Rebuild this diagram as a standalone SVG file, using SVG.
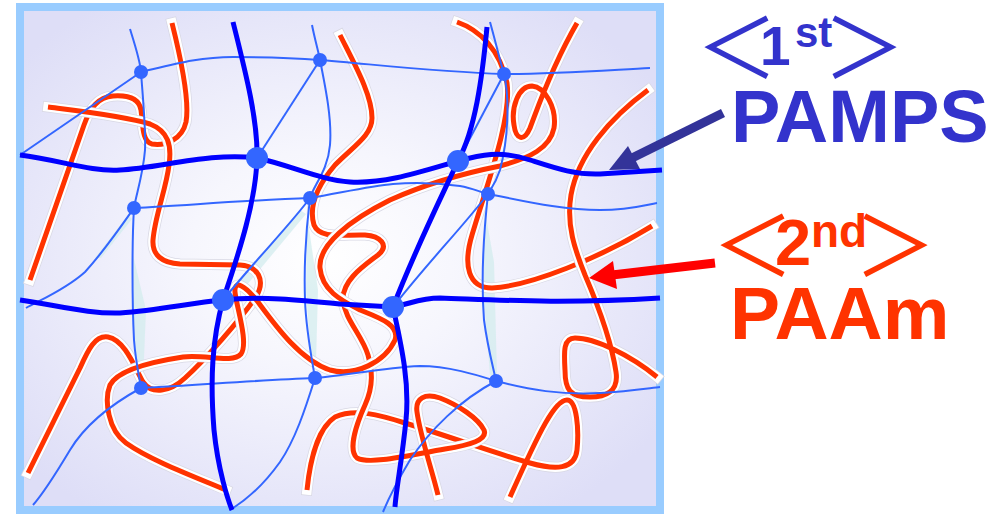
<svg xmlns="http://www.w3.org/2000/svg" xmlns:xlink="http://www.w3.org/1999/xlink" width="1007" height="514" viewBox="0 0 1007 514">
  <defs>
    <radialGradient id="bg" cx="0.48" cy="0.5" r="0.62">
      <stop offset="0" stop-color="#ffffff"/>
      <stop offset="0.35" stop-color="#f6f6fd"/>
      <stop offset="1" stop-color="#dedef7"/>
    </radialGradient>
    <style>
      .thick { fill: none; stroke: #0000ff; stroke-width: 5; stroke-linecap: butt; }
      .thin { fill: none; stroke: #3366ff; stroke-width: 2; }
      .edge { fill: none; stroke: #d8d8e4; stroke-width: 11; stroke-linecap: square; stroke-linejoin: round; }
      .halo { fill: none; stroke: #ffffff; stroke-width: 9.5; stroke-linecap: square; stroke-linejoin: round; }
      .red { fill: none; stroke: #ff3300; stroke-width: 5; stroke-linejoin: round; }
      .xl { fill: #3366ff; }
      .shade { fill: #d3ecee; opacity: 0.75; }
      .lbl { font-family: "Liberation Sans", Arial, sans-serif; font-weight: bold; }
      .br { font-family: "Noto Sans CJK JP", sans-serif; font-weight: normal; font-size: 82px; }
      .blue { fill: #3333cc; }
      .orange { fill: #ff3300; }
    </style>
    <!-- second-network (PAAm) chains -->
    <path id="rA" d="M172,23 C180,55 190,100 186,122 C182,140 165,146 152,144 C142,142 143,125 141,110 C139,98 128,95 113,96 C98,97 90,108 84,125 L30,280"/>
    <path id="rB" d="M48,107 C80,111 125,116 150,124 C168,131 172,145 169,165 C166,190 155,215 153,240 C152,255 162,263 180,264 L240,265 C258,266 266,280 256,297 C240,320 205,360 185,378 C170,392 152,395 143,382 C135,368 125,340 108,337 C95,335 88,350 80,368 L28,473"/>
    <path id="rC" d="M226,490 C190,475 150,460 126,443 C108,430 104,400 110,385 C118,370 150,362 183,357 C205,354 232,364 241,354 C249,343 236,305 235,292 C234,280 244,284 258,302 C275,325 300,360 330,370 C355,377 385,362 395,340 C400,325 380,318 360,310 C340,300 322,290 320,268 C318,245 350,220 390,200 C430,182 470,172 500,166 C530,158 550,148 554,128 C557,108 545,87 532,86 C518,86 511,108 514,125 C516,140 524,142 530,128 C537,110 550,70 577,23"/>
    <path id="rE" d="M457,22 C480,30 500,50 507,83 C512,120 485,190 472,235 C463,265 468,288 492,288 C530,286 600,258 652,226"/>
    <path id="rF" d="M648,90 C610,118 578,155 571,195 C566,225 575,250 585,275 C600,310 612,345 616,372 C619,392 605,397 590,397 C570,397 565,390 565,370 C564,352 563,338 575,338 C595,338 630,355 657,377"/>
    <path id="rG" d="M307,490 C310,460 318,428 335,417 C355,408 380,415 405,423 C445,435 500,455 530,463 C555,470 575,470 577,450 C579,430 577,400 567,400 C555,400 540,430 510,497"/>
    <path id="rH" d="M438,495 C432,470 420,435 417,412 C415,398 425,393 440,398 C458,405 478,418 484,430 C488,440 470,445 445,449 C410,455 370,465 357,458 C348,450 356,425 365,405 C374,385 372,370 368,355 C362,335 345,320 343,300 C342,280 365,265 378,255 C390,245 380,236 365,235 C345,234 320,240 314,225 C308,205 318,185 335,165 C355,145 372,135 372,118 C372,95 355,65 340,35"/>
  </defs>

  <!-- gel frame -->
  <rect x="20" y="7" width="640" height="503" fill="url(#bg)" stroke="#99ccff" stroke-width="8"/>

  <!-- faint shading along the loose network strands -->
  <g id="shading">
    <polygon class="shade" points="133,255 146,310 143,382 138,382 133,310"/>
    <polygon class="shade" points="307,215 318,290 316,362 311,362 306,290"/>
    <polygon class="shade" points="484,205 494,262 497,375 490,375 484,300"/>
    <polygon class="shade" points="232,290 300,210 306,214 246,286"/>
    <polygon class="shade" points="95,258 128,215 132,219 101,258"/>
  </g>

  <!-- PAAm chains -->
  <g id="paam">
    <use xlink:href="#rA" class="edge"/><use xlink:href="#rA" class="halo"/><use xlink:href="#rA" class="red"/>
    <use xlink:href="#rB" class="edge"/><use xlink:href="#rB" class="halo"/><use xlink:href="#rB" class="red"/>
    <use xlink:href="#rE" class="edge"/><use xlink:href="#rE" class="halo"/><use xlink:href="#rE" class="red"/>
    <use xlink:href="#rF" class="edge"/><use xlink:href="#rF" class="halo"/><use xlink:href="#rF" class="red"/>
    <use xlink:href="#rG" class="edge"/><use xlink:href="#rG" class="halo"/><use xlink:href="#rG" class="red"/>
    <use xlink:href="#rH" class="edge"/><use xlink:href="#rH" class="halo"/><use xlink:href="#rH" class="red"/>
    <use xlink:href="#rC" class="edge"/><use xlink:href="#rC" class="halo"/><use xlink:href="#rC" class="red"/>
  </g>

  <!-- PAMPS network: connectors -->
  <g id="connectors">
    <g id="thin-strands">
      <path class="thin" d="M20,155 L141,72"/>
      <path class="thin" d="M141,72 C175,64 200,57 233,57 C270,57 295,58 320,60 C380,65 440,72 504,74 C560,74 610,70 650,68"/>
      <path class="thin" d="M130,29 C135,45 140,60 141,72 C143,100 146,130 145,150 C143,175 136,195 134,208 C132,240 132,300 134,340 C136,365 140,380 141,388"/>
      <path class="thin" d="M312,25 C315,40 318,50 320,60 C326,90 332,120 330,145 C328,170 314,185 310,198 C306,230 304,270 305,300 C306,330 312,360 315,378"/>
      <path class="thin" d="M490,22 C495,40 500,60 504,74 C510,100 508,140 500,170 C495,185 490,190 488,194 C484,230 481,280 484,320 C488,350 494,370 496,381"/>
      <path class="thin" d="M320,60 L257,158"/>
      <path class="thin" d="M504,74 L458,161"/>
      <path class="thin" d="M134,208 C190,205 250,200 310,198 C340,193 370,186 393,184 C420,182 445,184 460,186 C472,188 480,192 488,194 C520,200 560,210 600,210 C630,210 645,205 657,203"/>
      <path class="thin" d="M134,208 C120,228 105,250 85,272 C65,290 40,300 26,308"/>
      <path class="thin" d="M310,198 C290,225 260,255 223,300"/>
      <path class="thin" d="M488,194 C460,230 430,260 393,307"/>
      <path class="thin" d="M141,388 C200,385 260,380 315,378 C350,375 380,368 420,366 C450,366 480,376 496,381 C530,390 560,395 600,393 C630,391 650,388 660,387"/>
      <path class="thin" d="M141,388 C110,405 85,425 70,450 C55,475 42,495 33,505"/>
      <path class="thin" d="M315,378 C305,410 295,440 280,462 C265,483 250,498 230,510"/>
      <path class="thin" d="M496,381 C460,400 430,430 410,460 C398,480 390,495 383,512"/>
    </g>
    <g id="thick-strands">
      <path class="thick" d="M20,155 C60,160 90,172 120,170 C160,168 210,152 257,158 C290,165 320,180 350,182 C385,184 420,172 458,161 C480,155 500,150 530,160 C555,168 575,175 600,174 L662,170"/>
      <path class="thick" d="M20,300 C60,306 90,314 120,313 C160,310 190,303 223,300 C260,296 300,300 340,304 L393,307 C410,304 420,298 440,298 C500,300 560,304 660,298"/>
      <path class="thick" d="M233,22 C245,70 258,120 257,158 C256,200 240,250 223,300 C212,340 210,380 214,430 C218,470 228,500 232,510"/>
      <path class="thick" d="M487,27 C482,80 475,130 458,161 C440,200 415,250 393,307 C400,340 410,380 406,420 C402,460 396,490 395,507"/>
    </g>
  </g>

  <!-- PAMPS network: crosslink points -->
  <g id="crosslinks">
    <circle id="xl-1" class="xl" cx="141" cy="72" r="7"/>
    <circle id="xl-2" class="xl" cx="320" cy="60" r="7"/>
    <circle id="xl-3" class="xl" cx="504" cy="74" r="7"/>
    <circle id="xl-4" class="xl" cx="134" cy="208" r="7"/>
    <circle id="xl-5" class="xl" cx="310" cy="198" r="7"/>
    <circle id="xl-6" class="xl" cx="488" cy="194" r="7"/>
    <circle id="xl-7" class="xl" cx="141" cy="388" r="7"/>
    <circle id="xl-8" class="xl" cx="315" cy="378" r="7"/>
    <circle id="xl-9" class="xl" cx="496" cy="381" r="7"/>
    <circle id="xl-10" class="xl" cx="257" cy="158" r="11"/>
    <circle id="xl-11" class="xl" cx="458" cy="161" r="11"/>
    <circle id="xl-12" class="xl" cx="223" cy="300" r="11"/>
    <circle id="xl-13" class="xl" cx="393" cy="307" r="11"/>
  </g>

  <!-- pointer arrows -->
  <g id="arrows">
    <line x1="723" y1="113" x2="630" y2="159" stroke="#333399" stroke-width="9"/>
    <polygon points="609,170 628,146 640,169" fill="#333399"/>
    <line x1="715" y1="263" x2="612" y2="275" stroke="#ff0000" stroke-width="9"/>
    <polygon points="589,278 613,261 617,289" fill="#ff0000"/>
  </g>

  <!-- labels -->
  <g id="label-1st">
    <text class="lbl blue"><tspan class="br" x="696" y="78">＜</tspan><tspan x="760" y="65" font-size="55">1</tspan><tspan x="795" y="47" font-size="42">st</tspan><tspan class="br" x="823" y="78">＞</tspan></text>
    <text class="lbl blue" x="731" y="142" font-size="74">PAMPS</text>
  </g>
  <g id="label-2nd">
    <text class="lbl orange"><tspan class="br" x="712" y="276">＜</tspan><tspan x="775" y="265" font-size="65">2</tspan><tspan x="811" y="247" font-size="46">nd</tspan><tspan class="br" x="854" y="276">＞</tspan></text>
    <text class="lbl orange" x="730" y="339" font-size="75">PAAm</text>
  </g>
</svg>
